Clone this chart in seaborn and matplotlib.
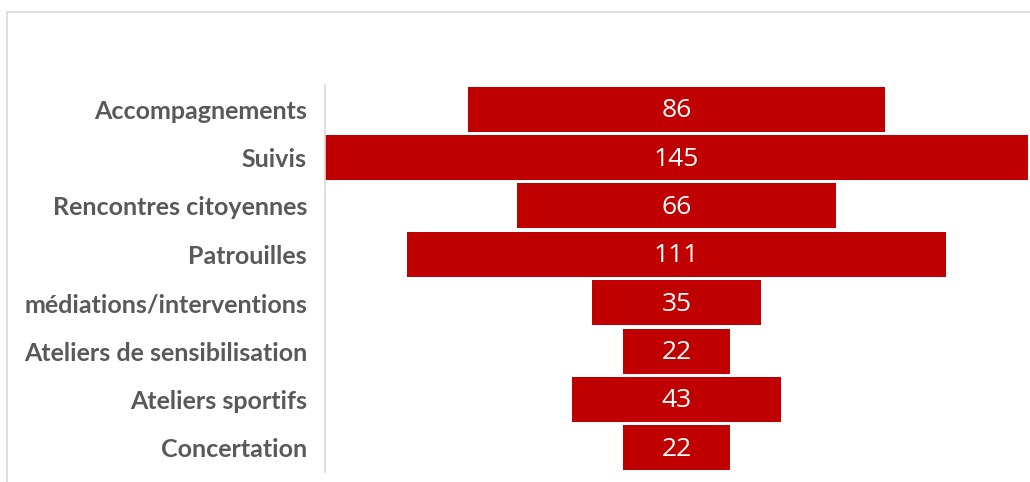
import matplotlib
matplotlib.use("Agg")
import matplotlib.pyplot as plt
import seaborn as sns
import pandas as pd
from matplotlib.patches import Rectangle

categories = ["Accompagnements", "Suivis", "Rencontres citoyennes", "Patrouilles",
              "médiations/interventions", "Ateliers de sensibilisation",
              "Ateliers sportifs", "Concertation"]
values = [86, 145, 66, 111, 35, 22, 43, 22]

sns.set_style("white")
plt.rcParams["font.family"] = ["Lato", "DejaVu Sans"]

df = pd.DataFrame({"cat": categories, "val": values})
df["half"] = df["val"] / 2
df["neg"] = -df["half"]

fig = plt.figure(figsize=(10.30, 4.82), dpi=100)
ax = fig.add_axes([325 / 1030, 1 - 472 / 482, 703 / 1030, 387 / 482])

red = "#c00000"
# funnel: each bar is drawn as two halves around the centre
sns.barplot(data=df, x="half", y="cat", orient="h", color=red, saturation=1,
            width=0.93, linewidth=0, ax=ax)
sns.barplot(data=df, x="neg", y="cat", orient="h", color=red, saturation=1,
            width=0.93, linewidth=0, ax=ax)

vmax = max(values)
ax.set_xlim(-vmax / 2, vmax / 2)
ax.set_ylim(len(categories) - 0.5, -0.5)

for i, v in enumerate(values):
    ax.text(0, i + 0.03, str(v), ha="center", va="center", color="white",
            fontsize=19, family=["Open Sans", "DejaVu Sans"])

ax.set_xlabel("")
ax.set_ylabel("")
ax.set_xticks([])
ax.tick_params(axis="y", length=0, pad=13)
for lab in ax.get_yticklabels():
    lab.set_fontsize(18)
    lab.set_fontweight("bold")
    lab.set_color("#595959")

for s in ["top", "right", "bottom"]:
    ax.spines[s].set_visible(False)
ax.spines["left"].set_color("#d9d9d9")
ax.spines["left"].set_linewidth(1.2)

# light frame of the chart area
fig.patches.append(Rectangle((7 / 1030, -0.1), 1.2, 1 - 12 / 482 + 0.1,
                             transform=fig.transFigure, fill=False,
                             edgecolor="#d9d9d9", linewidth=1.2))

fig.savefig("out.png", dpi=100)
